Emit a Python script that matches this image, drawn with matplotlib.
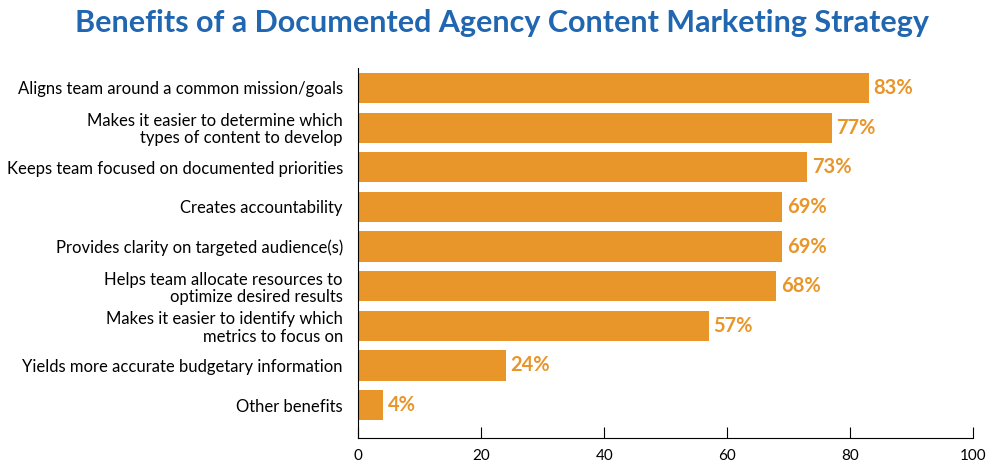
import matplotlib.pyplot as plt
import matplotlib.ticker as ticker

labels = [
    "Aligns team around a common mission/goals",
    "Makes it easier to determine which\ntypes of content to develop",
    "Keeps team focused on documented priorities",
    "Creates accountability",
    "Provides clarity on targeted audience(s)",
    "Helps team allocate resources to\noptimize desired results",
    "Makes it easier to identify which\nmetrics to focus on",
    "Yields more accurate budgetary information",
    "Other benefits",
]
values = [83, 77, 73, 69, 69, 68, 57, 24, 4]

bar_color = "#E8952A"
title_color = "#2166B0"

plt.rcParams['font.family'] = ['Lato', 'DejaVu Sans']

fig = plt.figure(figsize=(9.95, 4.7), dpi=100)
ax = fig.add_axes([0.36, 0.068, 0.618, 0.787])

pos = list(range(len(values)))
ax.barh(pos, values, height=0.76, color=bar_color)
for p, v in zip(pos, values):
    ax.text(v + 0.8, p, f"{v}%", va="center", ha="left", fontsize=14.5,
            fontweight="bold", color=bar_color)

ax.set_yticks(pos)
ax.set_yticklabels(labels, fontsize=12, linespacing=1.1)
ax.set_ylim(8.83, -0.5)
ax.set_xlim(0, 100)
ax.xaxis.set_major_locator(ticker.MultipleLocator(20))
ax.tick_params(axis="y", length=0, pad=11)
ax.tick_params(axis="x", direction="in", length=8, labelsize=11, pad=8)
for s in ["top", "right"]:
    ax.spines[s].set_visible(False)

fig.text(0.505, 0.952, "Benefits of a Documented Agency Content Marketing Strategy",
         ha="center", va="center", fontsize=22, fontweight="bold", color=title_color)

fig.savefig("out.png", dpi=100)
